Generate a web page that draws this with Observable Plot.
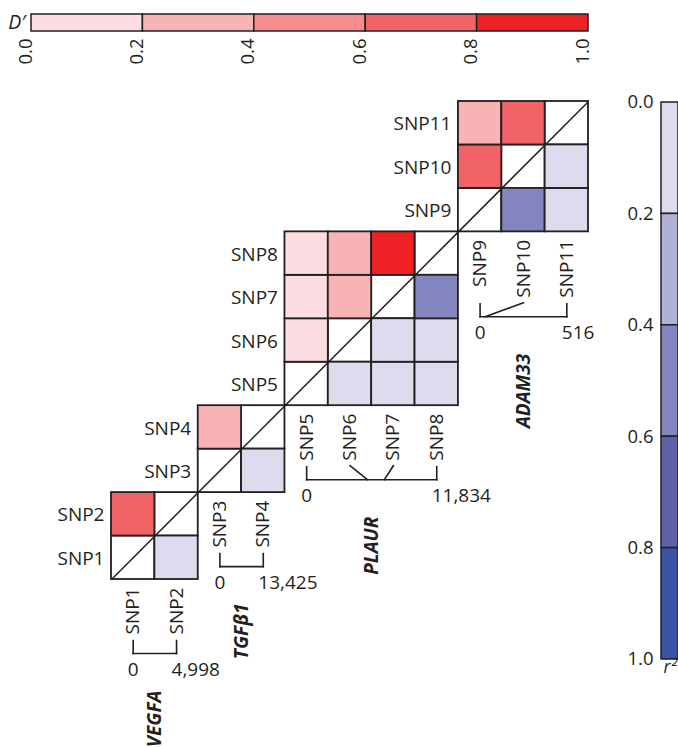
<!DOCTYPE html>
<html>
<head>
<meta charset="utf-8">
<script src="https://cdn.jsdelivr.net/npm/d3@7"></script>
<script src="https://cdn.jsdelivr.net/npm/@observablehq/plot@0.6"></script>
<style>
  html, body { margin: 0; padding: 0; background: #fff; }
  #wrap { position: relative; width: 678px; height: 747px; overflow: hidden; font-family: 'Open Sans', sans-serif; }
  #wrap > svg, #wrap > figure { position: absolute; left: 0; top: 0; margin: 0; }
</style>
</head>
<body>
<div id="wrap"></div>
<script>
// ---------------- data ----------------
const snps = ["SNP1","SNP2","SNP3","SNP4","SNP5","SNP6","SNP7","SNP8","SNP9","SNP10","SNP11"];
const genes = ["VEGFA","TGFβ1","PLAUR","ADAM33"];
const geneFirst = [1, 3, 5, 9];        // first SNP number of each gene
const geneLast  = [2, 4, 8, 11];       // last SNP number of each gene
const geneSpan  = [4998, 13425, 11834, 516];
const spanLabels = ["4,998", "13,425", "11,834", "516"];
const snpPos = [0, 4998, 0, 13425, 0, 5530, 7070, 11834, 0, 30, 516]; // relative position (bp)
// pairwise LD (within each gene)
const pairA  = [1, 3, 5, 5, 5, 6, 6, 7, 9, 9, 10];
const pairB  = [2, 4, 6, 7, 8, 7, 8, 8, 10, 11, 11];
const dPrime = [0.7, 0.3, 0.1, 0.1, 0.1, 0.3, 0.3, 0.9, 0.7, 0.3, 0.7];
const rSq    = [0.1, 0.1, 0.1, 0.1, 0.1, 0.1, 0.1, 0.5, 0.5, 0.1, 0.1];
// legend
const legendTicks = [0, 0.2, 0.4, 0.6, 0.8, 1.0];
const tickLabels = ["0.0", "0.2", "0.4", "0.6", "0.8", "1.0"];

// ---------------- styles ----------------
const D_COLORS = ["#fcdde1", "#f8b3b5", "#f38d8f", "#f26368", "#ee2124"];
const R_COLORS = ["#dddcee", "#b1b0d5", "#8386be", "#5e63a9", "#3a53a4"];
const INK = "#231f20";
const FONT = "'Open Sans', sans-serif";
const FS = 19;
const LFS = 18.5;
const W = 678, H = 747;
const ML = 111, MR = 90, MT = 101, MB = 168;
const GAP = 8;          // px between block and column labels
const ppu = (H - MT - MB) / snps.length;
const px = p => p / ppu; // pixel offset -> row units

const thresholds = legendTicks.slice(1, -1);
const dColor = Plot.scale({color: {type: "threshold", domain: thresholds, range: D_COLORS}});
const rColor = Plot.scale({color: {type: "threshold", domain: thresholds, range: R_COLORS}});

const ctx = document.createElement("canvas").getContext("2d");
ctx.font = `${FS}px 'Open Sans'`;
const tw = s => ctx.measureText(s).width;

// ---------------- derived tables ----------------
const snpIdx = snps.map((_, i) => i);
const geneIdx = genes.map((_, k) => k);
const snpGene = snps.map((_, i) => genes.findIndex((_, k) => i + 1 >= geneFirst[k] && i + 1 <= geneLast[k]));

const cells = [];
snps.forEach((_, i) => cells.push({col: i + 1, row: i + 1, fill: "#ffffff"}));
pairA.forEach((a, k) => {
  const b = pairB[k];
  cells.push({col: a, row: b, fill: dColor.apply(dPrime[k])});
  cells.push({col: b, row: a, fill: rColor.apply(rSq[k])});
});

const bottom = k => geneFirst[k] - 1;
const firstC = k => geneFirst[k] - 0.5;
const lastC = k => geneLast[k] - 0.5;
const lineOff = geneIdx.map(k => {
  let m = 0;
  for (let s = geneFirst[k]; s <= geneLast[k]; s++) m = Math.max(m, GAP + tw(snps[s - 1]));
  return m + 19;
});

const connectors = snpIdx.map(i => {
  const k = snpGene[i];
  const c = i + 0.5;
  const isEnd = (i + 1 === geneFirst[k]) || (i + 1 === geneLast[k]);
  const xg = firstC(k) + snpPos[i] / geneSpan[k] * (lastC(k) - firstC(k));
  const topOff = isEnd ? lineOff[k] - 13 : GAP + tw(snps[i]) + 5;
  return {
    x1: c, y1: bottom(k) - px(topOff),
    x2: isEnd ? c : xg, y2: bottom(k) - px(lineOff[k])
  };
});

// ---------------- main chart ----------------
const main = Plot.plot({
  width: W, height: H,
  marginLeft: ML, marginRight: MR, marginTop: MT, marginBottom: MB,
  x: {domain: [0, snps.length], axis: null},
  y: {domain: [0, snps.length], axis: null},
  color: {type: "identity"},
  style: {background: "none", overflow: "visible", fontFamily: FONT},
  marks: [
    Plot.rect(cells, {
      x1: d => d.col - 1, x2: d => d.col, y1: d => d.row - 1, y2: d => d.row,
      fill: d => d.fill, stroke: INK, strokeWidth: 1.8
    }),
    Plot.link(geneIdx, {
      x1: k => geneFirst[k] - 1, y1: k => geneFirst[k] - 1,
      x2: k => geneLast[k], y2: k => geneLast[k],
      stroke: INK, strokeWidth: 1.5
    }),
    // row labels
    Plot.text(snpIdx, {
      x: i => geneFirst[snpGene[i]] - 1, y: i => i + 0.5, text: i => snps[i],
      textAnchor: "end", dx: -7, dy: 1, fontSize: FS, fill: INK
    }),
    // column labels
    Plot.text(snpIdx, {
      x: i => i + 0.5, y: i => geneFirst[snpGene[i]] - 1, text: i => snps[i],
      rotate: -90, textAnchor: "end", dy: GAP, fontSize: FS, fill: INK
    }),
    // brackets
    Plot.link(connectors, {x1: "x1", y1: "y1", x2: "x2", y2: "y2", stroke: INK, strokeWidth: 1.6, strokeLinecap: "square"}),
    Plot.link(geneIdx, {
      x1: firstC, x2: lastC,
      y1: k => bottom(k) - px(lineOff[k]), y2: k => bottom(k) - px(lineOff[k]),
      stroke: INK, strokeWidth: 1.6, strokeLinecap: "square"
    }),
    Plot.text(geneIdx, {
      x: firstC, y: k => bottom(k) - px(lineOff[k] + 16), text: () => "0",
      fontSize: FS, fill: INK
    }),
    Plot.text(geneIdx, {
      x: lastC, y: k => bottom(k) - px(lineOff[k] + 16), text: k => spanLabels[k],
      textAnchor: "start", dx: -5, fontSize: FS, fill: INK
    }),
    // gene names
    Plot.text(geneIdx, {
      x: k => (geneFirst[k] - 1 + geneLast[k]) / 2, y: k => bottom(k) - px(lineOff[k] + 37),
      text: k => genes[k], rotate: -90, textAnchor: "end",
      fontSize: FS, fontWeight: "bold", fontStyle: "italic", fill: INK
    })
  ]
});

// ---------------- D' legend (top) ----------------
const bins = legendTicks.slice(0, -1).map((t, i) => ({lo: t, hi: legendTicks[i + 1]}));
const topLegend = Plot.plot({
  width: W, height: 75,
  marginLeft: 31, marginRight: 90, marginTop: 14, marginBottom: 44,
  x: {domain: [0, 1], axis: null},
  color: {type: "threshold", domain: thresholds, range: D_COLORS},
  style: {background: "none", overflow: "visible", fontFamily: FONT},
  marks: [
    Plot.rect(bins, {x1: "lo", x2: "hi", fill: d => (d.lo + d.hi) / 2, stroke: INK, strokeWidth: 1.5}),
    Plot.text(legendTicks, {
      x: d => d, text: (d, i) => tickLabels[i], frameAnchor: "bottom",
      rotate: -90, textAnchor: "end", dy: 7, fontSize: LFS, fill: INK
    }),
    Plot.text(["D′"], {frameAnchor: "left", textAnchor: "end", dx: -6, fontSize: LFS + 1, fontStyle: "italic", fill: INK})
  ]
});

// ---------------- r² legend (right) ----------------
const rightLegend = Plot.plot({
  width: W, height: H,
  marginLeft: 661, marginRight: 0, marginTop: 102, marginBottom: 88,
  y: {domain: [0, 1], reverse: true, axis: null},
  color: {type: "threshold", domain: thresholds, range: R_COLORS},
  style: {background: "none", overflow: "visible", fontFamily: FONT},
  marks: [
    Plot.rect(bins, {y1: "lo", y2: "hi", fill: d => (d.lo + d.hi) / 2, stroke: INK, strokeWidth: 1.5}),
    Plot.text(legendTicks, {
      y: d => d, text: (d, i) => tickLabels[i], frameAnchor: "left",
      textAnchor: "end", dx: -8, fontSize: LFS, fill: INK
    }),
    Plot.text(["r²"], {frameAnchor: "bottom-left", textAnchor: "start", dx: 2, dy: 13, fontSize: LFS - 1, fontStyle: "italic", fill: INK})
  ]
});

const wrap = document.getElementById("wrap");
wrap.appendChild(main);
wrap.appendChild(topLegend);
wrap.appendChild(rightLegend);
</script>
</body>
</html>
